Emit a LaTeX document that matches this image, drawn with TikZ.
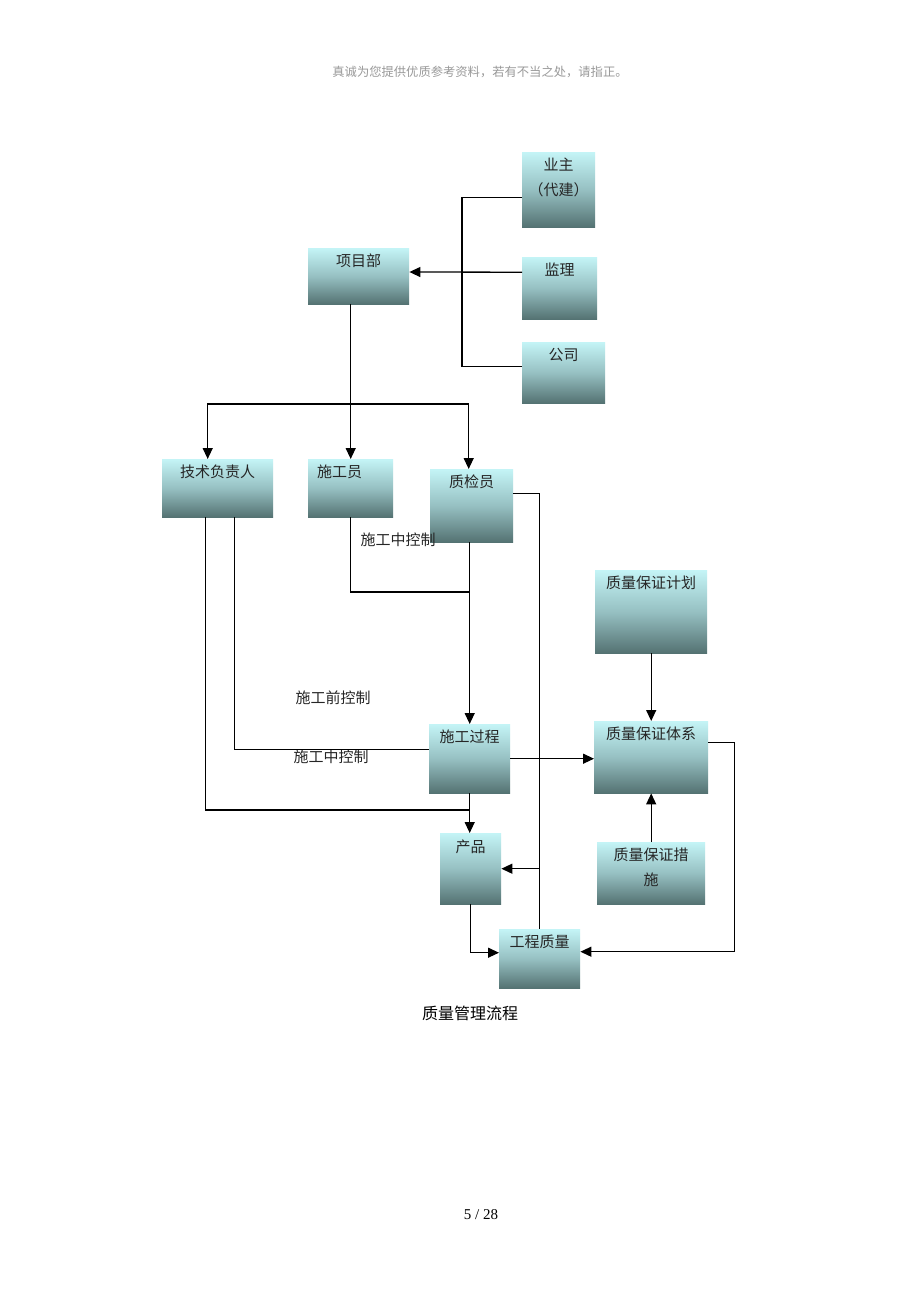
\documentclass[tikz,border=0pt]{standalone}
\usepackage{fontspec}
\setmainfont{Liberation Serif}
\newfontfamily\cjk{Noto Sans CJK SC}
\usetikzlibrary{arrows.meta}
\definecolor{qtop}{RGB}{196,244,246}
\definecolor{qmid}{RGB}{150,192,194}
\definecolor{qbot}{RGB}{84,114,114}
\tikzset{
  qbox/.style={anchor=north west, inner sep=0pt, top color=qtop, bottom color=qbot, middle color=qmid},
  qlabel/.style={anchor=north, inner sep=0pt, yshift=-6pt, align=center, text=black!85, font=\cjk\fontsize{15}{25}\selectfont},
  note/.style={inner sep=0pt, text=black!85, font=\cjk\fontsize{15}{18}\selectfont},
  link/.style={line width=1.3pt},
  arr/.style={link, -{Triangle[length=11pt,width=10pt]}}
}
\begin{document}
\begin{tikzpicture}[x=1pt,y=-1pt]
  \useasboundingbox[fill=white] (0,0) rectangle (920,1302);
  \node[inner sep=0pt, text=black!40, font=\cjk\fontsize{12.3}{14}\selectfont] (hdr) at (480,72) {真诚为您提供优质参考资料，若有不当之处，请指正。};
  % boxes
  \node[qbox, minimum width=73pt, minimum height=75pt, label={[qlabel]north:业主\\（代建）}] (yezhu) at (522,152) {};
  \node[qbox, minimum width=75pt, minimum height=62pt, label={[qlabel]north:监理}] (jianli) at (522,257) {};
  \node[qbox, minimum width=83pt, minimum height=61pt, label={[qlabel]north:公司}] (gongsi) at (522,342) {};
  \node[qbox, minimum width=101pt, minimum height=56pt, label={[qlabel]north:项目部}] (xmb) at (308,248) {};
  \node[qbox, minimum width=111pt, minimum height=58pt, label={[qlabel]north:技术负责人}] (jsfz) at (162,459) {};
  \node[qbox, minimum width=85pt, minimum height=58pt, label={[qlabel, xshift=-11pt]north:施工员}] (sgy) at (308,459) {};
  \node[qbox, minimum width=83pt, minimum height=73pt, label={[qlabel]north:质检员}] (zjy) at (430,469) {};
  \node[qbox, minimum width=112pt, minimum height=83pt, label={[qlabel]north:质量保证计划}] (jihua) at (595,570) {};
  \node[qbox, minimum width=81pt, minimum height=69pt, label={[qlabel]north:施工过程}] (sggc) at (429,724) {};
  \node[qbox, minimum width=114pt, minimum height=72pt, label={[qlabel]north:质量保证体系}] (tixi) at (594,721) {};
  \node[qbox, minimum width=61pt, minimum height=71pt, label={[qlabel, yshift=-1pt]north:产品}] (cp) at (440,833) {};
  \node[qbox, minimum width=108pt, minimum height=62pt, label={[qlabel]north:质量保证措\\施}] (cuoshi) at (597,842) {};
  \node[qbox, minimum width=81pt, minimum height=59pt, label={[qlabel]north:工程质量}] (gczl) at (499,929) {};
  % labels
  \node[note] (zk1) at (398,540) {施工中控制};
  \node[note] (qk) at (333,698) {施工前控制};
  \node[note] (zk2) at (331,757) {施工中控制};
  \node[inner sep=0pt, font=\cjk\fontsize{16}{18}\selectfont] (title) at (470,1013) {质量管理流程};
  \node[inner sep=0pt, font=\fontsize{15}{18}\selectfont] (page) at (481,1215) {5 / 28};
  % connectors
  \coordinate (jn) at (462,272);
  \coordinate (bus) at (350,404);
  \draw[link] ([yshift=-8pt]yezhu.west) -| (jn) |- ([yshift=6pt]gongsi.west);
  \draw[arr] ([yshift=16pt]jianli.west) -- (xmb.east |- jn);
  \draw[arr] (xmb.south -| sgy.north) -- (sgy.north);
  \draw[link] ([xshift=-10pt]jsfz.north |- bus) -- ([xshift=-3pt]zjy.north |- bus);
  \draw[arr] (bus) -| ([xshift=-10pt]jsfz.north);
  \draw[arr] (bus) -| ([xshift=-3pt]zjy.north);
  \draw[link] (sgy.south) |- (sggc.north |- 0,592);
  \draw[arr] (zjy.south -| sggc.north) -- (sggc.north);
  \draw[link] ([xshift=-12pt]jsfz.south) |- (sggc.south |- 0,810);
  \draw[link] ([xshift=17pt]jsfz.south) |- ([yshift=9pt]sggc.west);
  \draw[arr] (sggc.south) -- (sggc.south |- cp.north);
  \draw[arr] (sggc.east) -- (sggc.east -| tixi.west);
  \draw[arr] (jihua.south) -- (tixi.north);
  \draw[arr] (cuoshi.north) -- (tixi.south);
  \draw[link] ([yshift=12pt]zjy.east) -| (gczl.north);
  \draw[arr] (gczl.north |- cp.east) -- (cp.east);
  \draw[arr] (cp.south) |- ([yshift=6pt]gczl.west);
  \draw[arr] ([yshift=15pt]tixi.east) -- ++(26,0) |- ([yshift=7pt]gczl.east);
\end{tikzpicture}
\end{document}
